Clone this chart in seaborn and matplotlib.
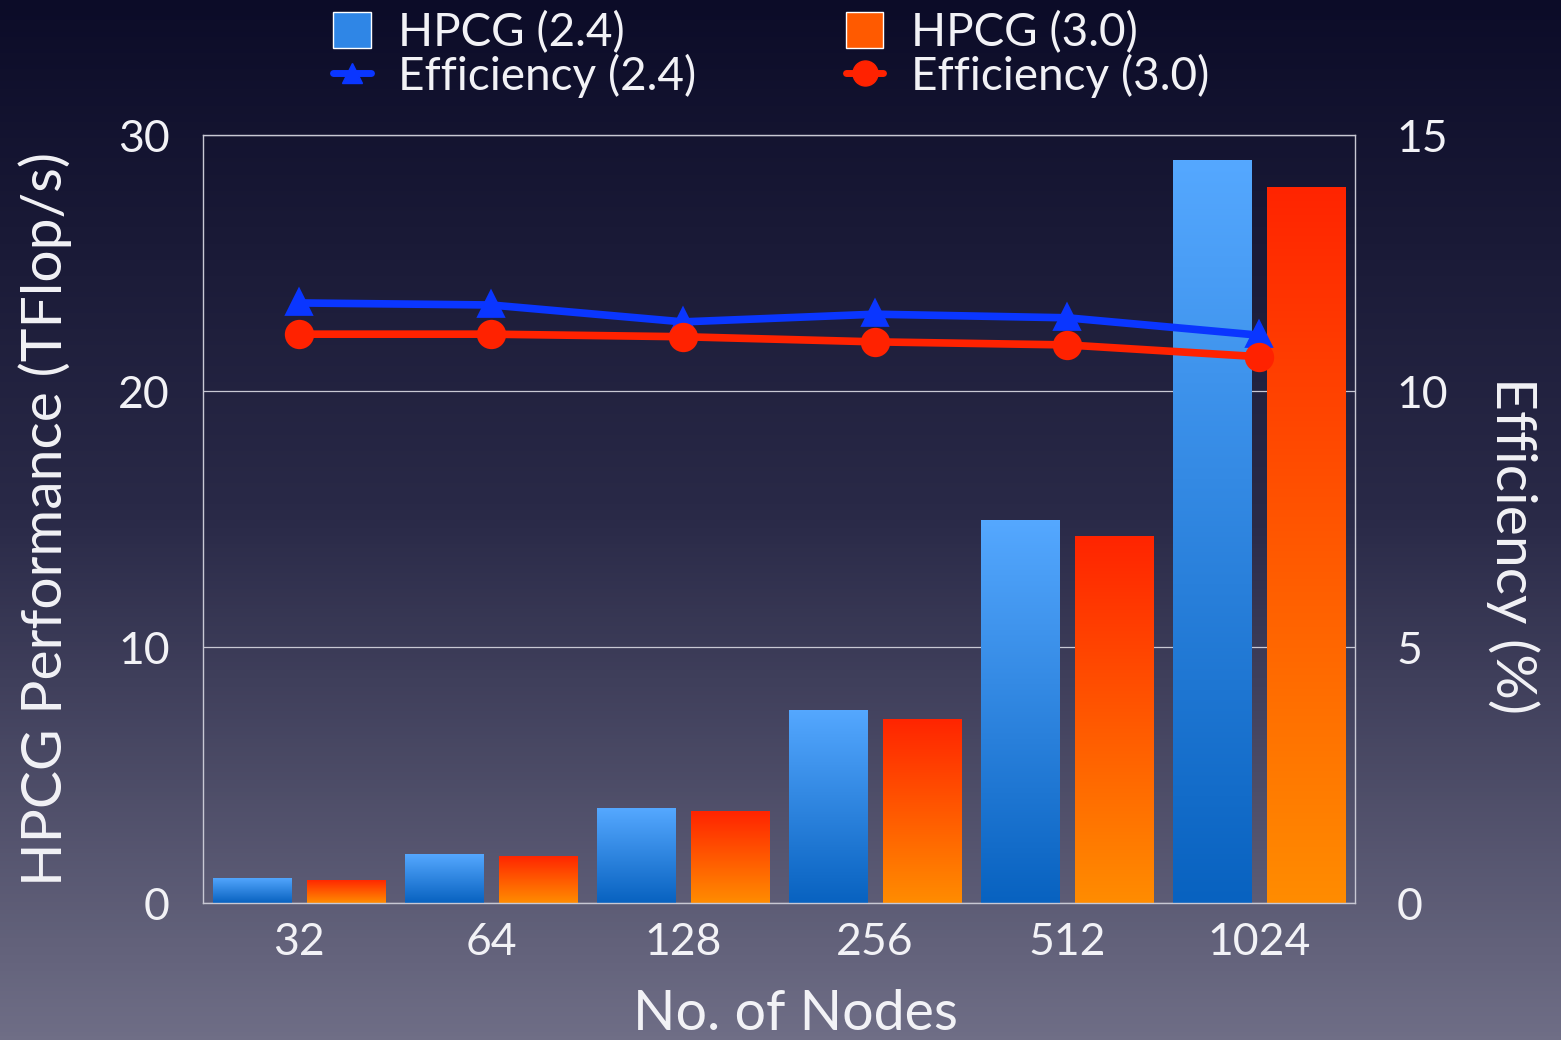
import numpy as np
import pandas as pd
import matplotlib
matplotlib.use("Agg")
import matplotlib.pyplot as plt
from matplotlib.colors import LinearSegmentedColormap
from matplotlib.patches import Patch
from matplotlib.lines import Line2D
import seaborn as sns

# data
nodes = ["32", "64", "128", "256", "512", "1024"]
hpcg_24 = [0.98, 1.91, 3.71, 7.54, 14.96, 29.02]
hpcg_30 = [0.91, 1.85, 3.59, 7.19, 14.34, 27.97]
eff_24 = [11.72, 11.68, 11.35, 11.50, 11.43, 11.09]
eff_30 = [11.11, 11.11, 11.06, 10.96, 10.90, 10.67]

sns.set_style("white")
plt.rcParams['font.family'] = ['Lato', 'DejaVu Sans']
txt = '#f2f2f6'

df = pd.DataFrame({
    'Nodes': nodes * 2,
    'Perf': hpcg_24 + hpcg_30,
    'Version': ['HPCG (2.4)'] * 6 + ['HPCG (3.0)'] * 6,
})

W, H = 1561, 1040
fig = plt.figure(figsize=(W / 100, H / 100), dpi=100)

# background gradient
bg = fig.add_axes([0, 0, 1, 1], zorder=-10)
bg_cmap = LinearSegmentedColormap.from_list('bg', ['#0c0c28', '#2a2a48', '#6f6e86'])
bg.imshow(np.linspace(0, 1, 256).reshape(-1, 1), aspect='auto', cmap=bg_cmap,
          extent=[0, 1, 0, 1], origin='upper')
bg.axis('off')

ax = fig.add_axes([203 / W, 1 - 903 / H, (1355 - 203) / W, (903 - 135) / H])
ax.set_facecolor('none')

sns.barplot(data=df, x='Nodes', y='Perf', hue='Version', ax=ax,
            width=0.98, gap=0.17, legend=False, palette=['#2f86e6', '#ff5a00'])

blue_cm = LinearSegmentedColormap.from_list('b', ['#0862c0', '#55a8ff'])
orange_cm = LinearSegmentedColormap.from_list('o', ['#ff8c00', '#ff2400'])
cmaps = [blue_cm, orange_cm]
grad = np.linspace(0, 1, 256).reshape(-1, 1)
for i, p in enumerate(list(ax.patches)):
    x0, y0 = p.get_x(), p.get_y()
    w, h = p.get_width(), p.get_height()
    if h <= 0:
        continue
    im = ax.imshow(grad, aspect='auto', cmap=cmaps[i // 6], origin='lower',
                   extent=[x0, x0 + w, y0, y0 + h], zorder=2)
    im.set_clip_path(p)
    p.set_facecolor('none')
    p.set_edgecolor('none')

ax.set_xlim(-0.5, 5.5)
ax.set_ylim(0, 30)
ax.set_yticks([0, 10, 20, 30])
ax.grid(axis='y', color='#c8c8d4', linewidth=0.9)
ax.set_axisbelow(True)
for s in ax.spines.values():
    s.set_color('#c8c8d4')
    s.set_linewidth(1.0)
ax.tick_params(axis='both', length=0, labelsize=32, colors=txt)
ax.tick_params(axis='y', pad=24)
ax.tick_params(axis='x', pad=14)
ax.set_xlabel('No. of Nodes', fontsize=40, color=txt)
ax.xaxis.set_label_coords(0.514, -0.112)
ax.set_ylabel('HPCG Performance (TFlop/s)', fontsize=41, color=txt, labelpad=33)

ax2 = ax.twinx()
sns.pointplot(x=nodes, y=eff_24, ax=ax2, color='#0a36ff', markers='^',
              markersize=14, linewidth=5.5, zorder=5)
sns.pointplot(x=nodes, y=eff_30, ax=ax2, color='#ff2200', markers='o',
              markersize=17, linewidth=5.5, zorder=5)
ax2.set_xlim(-0.5, 5.5)
ax2.set_ylim(0, 15)
ax2.set_yticks([0, 5, 10, 15])
ax2.tick_params(axis='y', length=0, labelsize=32, colors=txt, pad=30)
ax2.set_ylabel('Efficiency (%)', fontsize=41, color=txt, rotation=270)
ax2.yaxis.set_label_coords(1.1606, 0.466)
ax2.grid(False)
for s in ax2.spines.values():
    s.set_visible(False)

handles = [Patch(facecolor='#2f86e6'),
           Line2D([], [], color='#0a36ff', marker='^', markersize=14, linewidth=5),
           Patch(facecolor='#ff5a00'),
           Line2D([], [], color='#ff2200', marker='o', markersize=18, linewidth=5)]
labels = ['HPCG (2.4)', 'Efficiency (2.4)', 'HPCG (3.0)', 'Efficiency (3.0)']
leg = fig.legend(handles, labels, ncol=2, loc='upper left',
                 bbox_to_anchor=(333 / W, 1 - 11 / H), frameon=False, fontsize=33,
                 labelcolor=txt, handlelength=0.82, handleheight=0.85,
                 handletextpad=0.6, columnspacing=3.26, labelspacing=0.0,
                 borderaxespad=0.0, borderpad=0.0)

# paint the gradient into the legend squares
fig.canvas.draw()
for p, cm in zip(leg.get_patches(), cmaps):
    bb = p.get_window_extent()
    lax = fig.add_axes([bb.x0 / W, bb.y0 / H, bb.width / W, bb.height / H], zorder=5)
    lax.imshow(grad, aspect='auto', cmap=cm, origin='lower', extent=[0, 1, 0, 1])
    lax.axis('off')

fig.savefig('out.png', dpi=100)
